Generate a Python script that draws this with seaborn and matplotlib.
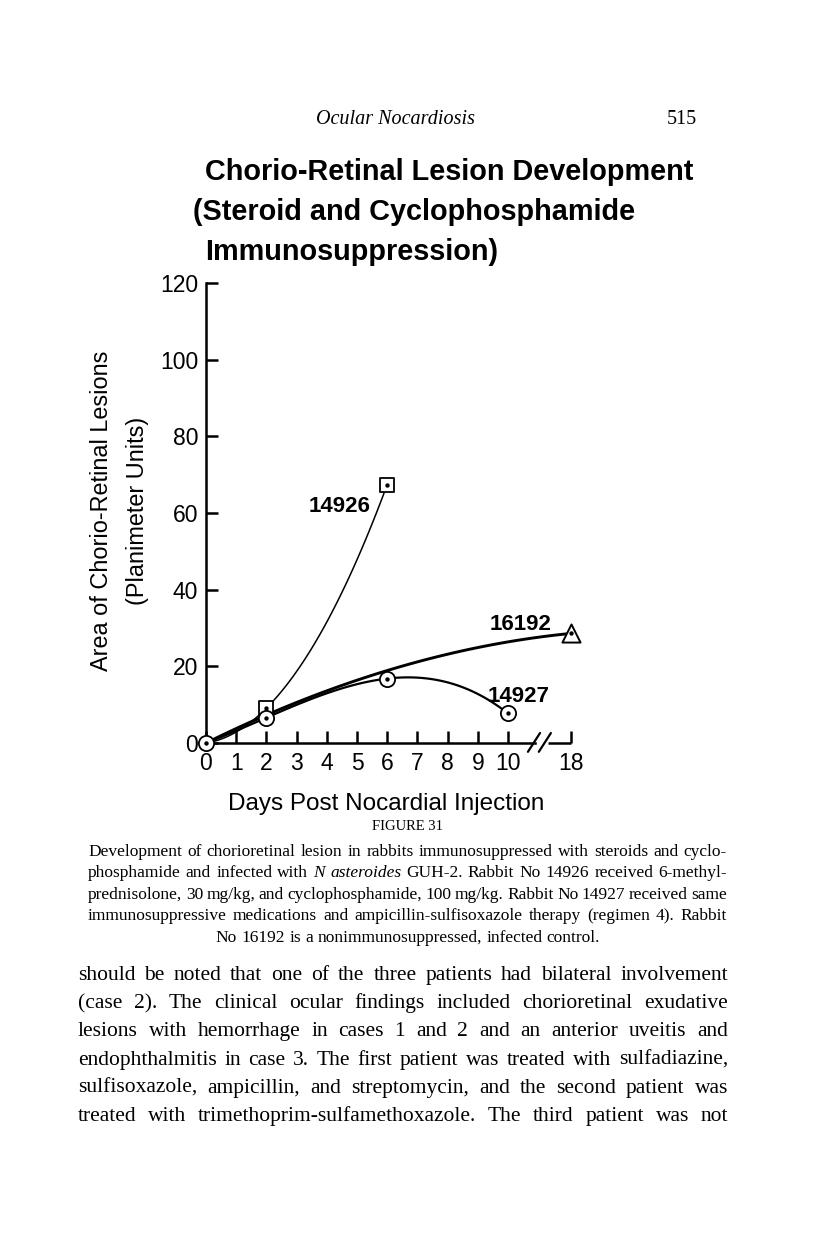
import matplotlib
matplotlib.use("Agg")
import matplotlib.pyplot as plt
import seaborn as sns

W, H = 816, 1246

# x axis: days 0..10 evenly spaced, then an axis break before day 18
tick_days = [0, 1, 2, 3, 4, 5, 6, 7, 8, 9, 10, 18]
tick_pos = [0, 1, 2, 3, 4, 5, 6, 7, 8, 9, 10, 12.1]
y_ticks = [0, 20, 40, 60, 80, 100, 120]

# lesion area (planimeter units)
days_14926 = [0, 2, 6]
area_14926 = [0, 9.1, 67.4]
days_14927 = [0, 2, 6, 10]
area_14927 = [0, 6.6, 16.8, 7.7]
days_16192 = [0, 2, 6, 18]
area_16192 = [0, 7.3, 18.9, 28.6]

title_lines = ["Chorio-Retinal Lesion Development",
               "(Steroid and Cyclophosphamide",
               "Immunosuppression)"]

caption_lines = [
    "Development of chorioretinal lesion in rabbits immunosuppressed with steroids and cyclo-",
    "phosphamide and infected with *N* *asteroides* GUH-2. Rabbit No 14926 received 6-methyl-",
    "prednisolone, 30 mg/kg, and cyclophosphamide, 100 mg/kg. Rabbit No 14927 received same",
    "immunosuppressive medications and ampicillin-sulfisoxazole therapy (regimen 4). Rabbit",
    "No 16192 is a nonimmunosuppressed, infected control.",
]

body_lines = [
    "should be noted that one of the three patients had bilateral involvement",
    "(case 2). The clinical ocular findings included chorioretinal exudative",
    "lesions with hemorrhage in cases 1 and 2 and an anterior uveitis and",
    "endophthalmitis in case 3. The first patient was treated with sulfadiazine,",
    "sulfisoxazole, ampicillin, and streptomycin, and the second patient was",
    "treated with trimethoprim-sulfamethoxazole. The third patient was not",
]

sns.set_style("ticks")
plt.rcParams['font.family'] = ['Liberation Sans', 'DejaVu Sans']
plt.rcParams['text.color'] = 'black'
plt.rcParams['axes.labelcolor'] = 'black'

fig = plt.figure(figsize=(W / 100, H / 100), dpi=100)
fig.patch.set_facecolor('white')


def px(x, y):
    return x / W, 1 - y / H


def text_line(line, x0, x1, yb, size, justify=True, center=None):
    arts = []
    for tok in line.split(' '):
        style = 'normal'
        if tok.startswith('*') and tok.endswith('*'):
            tok = tok[1:-1]
            style = 'italic'
        arts.append(fig.text(0, 0, tok, fontsize=size, family='Liberation Serif',
                             style=style, ha='left', va='baseline', color='black'))
    r = fig.canvas.get_renderer()
    widths = [a.get_window_extent(r).width for a in arts]
    if justify and len(arts) > 1:
        gap = (x1 - x0 - sum(widths)) / (len(arts) - 1)
    else:
        gap = size * 100 / 72 * 0.25
        x0 = center - (sum(widths) + gap * (len(arts) - 1)) / 2
    x = x0
    for a, w in zip(arts, widths):
        a.set_position(px(x, yb))
        x += w + gap


# axes placed where the printed chart sits
unit_x = 30.2
ax = fig.add_axes([206 / W, 1 - 743 / H, 12.4 * unit_x / W, (743 - 283) / H])
ax.set_facecolor('white')

pos = dict(zip(tick_days, tick_pos))
x_14926 = [pos[d] for d in days_14926]
x_14927 = [pos[d] for d in days_14927]
x_16192 = [pos[d] for d in days_16192]

# smooth curves through the points (exact polynomial fits)
sns.regplot(x=x_16192, y=area_16192, order=3, ci=None, scatter=False, ax=ax,
            line_kws=dict(color='black', lw=2.1, clip_on=False, zorder=2))
sns.regplot(x=x_14927, y=area_14927, order=3, ci=None, scatter=False, ax=ax,
            line_kws=dict(color='black', lw=1.6, clip_on=False, zorder=2))
sns.regplot(x=x_14926, y=area_14926, order=2, ci=None, scatter=False, ax=ax,
            line_kws=dict(color='black', lw=1.1, clip_on=False, zorder=2))

# markers: open symbol with a dot in the middle
sns.scatterplot(x=x_14926[1:], y=area_14926[1:], marker='s', s=110, color='white',
                edgecolor='black', linewidth=1.3, zorder=3, clip_on=False, ax=ax)
sns.scatterplot(x=x_14927, y=area_14927, marker='o', s=120, color='white',
                edgecolor='black', linewidth=1.3, zorder=3, clip_on=False, ax=ax)
sns.scatterplot(x=x_16192[-1:], y=area_16192[-1:], marker='^', s=170, color='white',
                edgecolor='black', linewidth=1.4, zorder=3, clip_on=False, ax=ax)
sns.scatterplot(x=x_14926[1:] + x_14927 + x_16192[-1:],
                y=area_14926[1:] + area_14927 + area_16192[-1:],
                marker='o', s=10, color='black', linewidth=0, zorder=4,
                clip_on=False, ax=ax)

ax.set_xlim(0, 12.4)
ax.set_ylim(0, 120)
ax.set_xticks(tick_pos)
ax.set_xticklabels([str(d) for d in tick_days])
ax.set_yticks(y_ticks)
ax.set_yticklabels([str(v) for v in y_ticks])
ax.tick_params(direction='in', length=8.6, width=1.8, labelsize=16.5, pad=5.5,
               colors='black')
ax.tick_params(axis='x', pad=6.5)
for side in ['top', 'right']:
    ax.spines[side].set_visible(False)
for side in ['left', 'bottom']:
    ax.spines[side].set_linewidth(1.8)
    ax.spines[side].set_color('black')
ax.spines['bottom'].set_bounds(0, 10.89)
ax.set_xlabel('')
ax.set_ylabel('')

# axis break between 10 and 18
ax.plot([11.32, 12.1], [0, 0], color='black', lw=1.8, clip_on=False,
        solid_capstyle='butt')
ax.plot([10.66, 11.06], [-2.3, 2.6], color='black', lw=1.6, clip_on=False)
ax.plot([11.02, 11.42], [-2.3, 2.6], color='black', lw=1.6, clip_on=False)

# series labels
ax.text(5.44, 60.3, '14926', fontsize=16, fontweight='bold', ha='right', va='baseline')
ax.text(9.40, 29.5, '16192', fontsize=16, fontweight='bold', ha='left', va='baseline')
ax.text(9.34, 10.7, '14927', fontsize=16, fontweight='bold', ha='left', va='baseline')

# axis titles
fig.text(*px(386, 810), 'Days Post Nocardial Injection', fontsize=17.5,
         ha='center', va='baseline')
fig.text(*px(108, 511), 'Area of Chorio-Retinal Lesions', fontsize=16.9,
         rotation=90, rotation_mode='anchor', ha='center', va='baseline')
fig.text(*px(144, 511), '(Planimeter Units)', fontsize=16.9,
         rotation=90, rotation_mode='anchor', ha='center', va='baseline')

# chart title
for line, x0, yb in zip(title_lines, [205, 193, 205], [180, 220, 260]):
    fig.text(*px(x0, yb), line, fontsize=20.8, fontweight='bold',
             ha='left', va='baseline')

# running head
fig.text(*px(395, 124), 'Ocular Nocardiosis', fontsize=14.5, family='Liberation Serif',
         style='italic', ha='center', va='baseline')
fig.text(*px(697, 124), '515', fontsize=14.5, family='Liberation Serif',
         ha='right', va='baseline')

# figure caption
fig.text(*px(408, 830), 'FIGURE 31', fontsize=10.5, family='Liberation Serif',
         ha='center', va='baseline')
for i, (line, yb) in enumerate(zip(caption_lines, [856, 877, 899, 920, 942])):
    last = i == len(caption_lines) - 1
    text_line(line, 88, 727, yb, 12.5, justify=not last, center=408)

# body text
for line, yb in zip(body_lines, [980, 1008, 1036, 1065, 1093, 1121]):
    text_line(line, 78, 728, yb, 15.5)

fig.savefig('out.png', dpi=100, facecolor='white')
